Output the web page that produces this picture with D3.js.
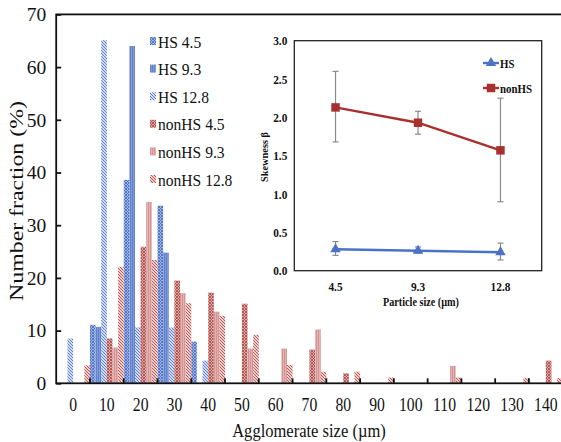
<!DOCTYPE html>
<html>
<head>
<meta charset="utf-8">
<script src="https://cdn.jsdelivr.net/npm/d3@7"></script>
<style>
  body { margin: 0; background: #fff; }
  svg { display: block; }
  text { font-family: "Liberation Serif", "Times New Roman", serif; fill: #111; }
</style>
</head>
<body>
<svg id="chart" width="561" height="442"></svg>
<script>
// Agglomerate size bins (µm)
const sizeBins = [0, 10, 20, 30, 40, 50, 60, 70, 80, 90, 100, 110, 120, 130, 140];
const seriesNames = ["HS 4.5", "HS 9.3", "HS 12.8", "nonHS 4.5", "nonHS 9.3", "nonHS 12.8"];

// Number fraction (%) per bin
const hs45     = [0, 11.1, 38.6, 33.7, 7.9, 0, 0, 0, 0, 0, 0, 0, 0, 0, 0];
const hs93     = [0, 10.7, 64.0, 24.8, 0, 0, 0, 0, 0, 0, 0, 0, 0, 0, 0];
const hs128    = [8.5, 65.1, 10.6, 10.6, 4.3, 0, 0, 0, 0, 0, 0, 0, 0, 0, 0];
const nonhs45  = [0, 8.5, 25.9, 19.5, 17.2, 15.1, 0, 6.4, 1.9, 0, 0, 0, 0, 0, 4.3];
const nonhs93  = [0, 6.8, 34.4, 17.1, 13.6, 6.6, 6.6, 10.2, 0, 0, 0, 3.3, 0, 0, 0];
const nonhs128 = [3.4, 22.1, 23.4, 15.2, 12.8, 9.2, 3.5, 2.2, 2.2, 1.1, 0, 1.1, 0, 1.0, 1.0];
const yTicks = [0, 10, 20, 30, 40, 50, 60, 70];

// Inset: skewness vs particle size
const particleSizes = ["4.5", "9.3", "12.8"];
const hsSkew      = [0.28, 0.26, 0.24];
const hsSkewLo    = [0.20, 0.23, 0.14];
const hsSkewHi    = [0.38, 0.31, 0.36];
const nonhsSkew   = [2.13, 1.93, 1.57];
const nonhsSkewLo = [1.68, 1.78, 0.90];
const nonhsSkewHi = [2.60, 2.08, 2.25];
const insetTicks  = [0, 0.5, 1.0, 1.5, 2.0, 2.5, 3.0];

const seriesValues = [hs45, hs93, hs128, nonhs45, nonhs93, nonhs128];
const seriesFill = ["url(#pBlueCross)", "url(#pBlueVert)", "url(#pBlueDiag)",
                    "url(#pRedCross)", "url(#pRedVert)", "url(#pRedDiag)"];

const svg = d3.select("#chart");
const defs = svg.append("defs");

// Tall, narrow type: render at a larger size, then squeeze the advance width back.
function narrow(sel, k) {
  sel.each(function () {
    const L = this.getComputedTextLength();
    d3.select(this).attr("textLength", L / k).attr("lengthAdjust", "spacingAndGlyphs");
  });
}

function crossPattern(id, bg, fg) {
  const p = defs.append("pattern").attr("id", id).attr("patternUnits", "userSpaceOnUse")
    .attr("width", 3).attr("height", 3);
  p.append("rect").attr("width", 3).attr("height", 3).attr("fill", bg);
  p.append("path").attr("d", "M0,0L3,3M3,0L0,3").attr("stroke", fg).attr("stroke-width", 0.9);
}
function vertPattern(id, bg, fg) {
  const p = defs.append("pattern").attr("id", id).attr("patternUnits", "userSpaceOnUse")
    .attr("width", 2).attr("height", 2);
  p.append("rect").attr("width", 2).attr("height", 2).attr("fill", bg);
  p.append("path").attr("d", "M0.5,0V2").attr("stroke", fg).attr("stroke-width", 0.8);
}
function diagPattern(id, fg) {
  const p = defs.append("pattern").attr("id", id).attr("patternUnits", "userSpaceOnUse")
    .attr("width", 3).attr("height", 3);
  p.append("rect").attr("width", 3).attr("height", 3).attr("fill", "#fff");
  p.append("path").attr("d", "M-1,-1L4,4M-1,2L1,4M2,-1L4,1").attr("stroke", fg).attr("stroke-width", 1.1);
}
crossPattern("pBlueCross", "#9fb4e2", "#4f72c4");
vertPattern("pBlueVert", "#7e9ad8", "#5a7ccb");
diagPattern("pBlueDiag", "#5a7cc9");
crossPattern("pRedCross", "#d9a6a4", "#b2504d");
vertPattern("pRedVert", "#e2b3b2", "#cf8a88");
diagPattern("pRedDiag", "#b7514e");

// ---- main histogram ----
const x0 = d3.scaleBand().domain(sizeBins).range([56.2, 562.7]).padding(0);
const x1 = d3.scaleBand().domain(seriesNames).range([0, x0.bandwidth()]).padding(0);
const y = d3.scaleLinear().domain([0, 70]).range([383.3, 14.4]);

const bars = svg.append("g");
seriesNames.forEach((name, si) => {
  bars.append("g").attr("fill", seriesFill[si])
    .selectAll("rect")
    .data(sizeBins.map((b, i) => ({ bin: b, v: seriesValues[si][i] })).filter(d => d.v > 0))
    .join("rect")
    .attr("x", d => x0(d.bin) + x1(name))
    .attr("width", x1.bandwidth())
    .attr("y", d => y(d.v))
    .attr("height", d => y(0) - y(d.v));
});

// frame
svg.append("rect").attr("x", x0.range()[0]).attr("y", y(70))
  .attr("width", x0.range()[1] - x0.range()[0]).attr("height", y(0) - y(70))
  .attr("fill", "none").attr("stroke", "#111").attr("stroke-width", 1.8);

// y axis
const yAxis = svg.append("g").attr("transform", `translate(${x0.range()[0]},0)`)
  .call(d3.axisLeft(y).tickValues(yTicks).tickSize(-5).tickPadding(10).tickFormat(d3.format("d")));
yAxis.select(".domain").remove();
yAxis.selectAll("line").attr("stroke", "#111").attr("stroke-width", 1.8);
yAxis.selectAll("text").attr("font-size", 19.5).attr("font-family", "Liberation Serif").attr("fill", "#111");

// x axis labels at bin centres, ticks at bin boundaries pointing inward
const xAxis = svg.append("g").attr("transform", `translate(0,${y(0)})`)
  .call(d3.axisBottom(x0).tickSize(0).tickPadding(15));
xAxis.select(".domain").remove();
xAxis.selectAll("text").attr("font-size", 18.5).attr("font-family", "Liberation Serif").attr("fill", "#111")
  .call(narrow, 1.18);
svg.append("g").selectAll("line").data(sizeBins.slice(1)).join("line")
  .attr("x1", d => x0(d)).attr("x2", d => x0(d))
  .attr("y1", y(0)).attr("y2", y(0) - 5)
  .attr("stroke", "#111").attr("stroke-width", 1.8);

svg.append("text").attr("x", 309).attr("y", 437).attr("text-anchor", "middle")
  .attr("font-size", 19.5).text("Agglomerate size (µm)").call(narrow, 1.18);
svg.append("text").attr("transform", "translate(23,201) rotate(-90)").attr("text-anchor", "middle")
  .attr("font-size", 19).attr("textLength", 200).attr("lengthAdjust", "spacingAndGlyphs")
  .text("Number fraction (%)");

// legend
const legend = svg.append("g");
seriesNames.forEach((name, i) => {
  const ly = 42 + i * 27.6;
  legend.append("rect").attr("x", 150).attr("y", ly - 5).attr("width", 6).attr("height", 8)
    .attr("fill", seriesFill[i]);
  legend.append("text").attr("x", 158).attr("y", ly + 5.5).attr("font-size", 16.5).text(name)
    .call(narrow, 1.06);
});

// ---- inset: skewness ----
const xi = d3.scaleBand().domain(particleSizes).range([294.3, 541.7]);
const yi = d3.scaleLinear().domain([0, 3]).range([270.7, 40.7]);
const cx = d => xi(d) + xi.bandwidth() / 2;

svg.append("rect").attr("x", 294.3).attr("y", 40.7).attr("width", 247.4).attr("height", 230)
  .attr("fill", "#fff").attr("stroke", "#222").attr("stroke-width", 1.3);

const yAxI = svg.append("g").attr("transform", "translate(294.3,0)")
  .call(d3.axisLeft(yi).tickValues(insetTicks).tickSize(0).tickPadding(7).tickFormat(d3.format(".1f")));
yAxI.select(".domain").remove();
yAxI.selectAll("text").attr("font-size", 13).attr("font-weight", "bold").attr("font-family", "Liberation Serif").attr("fill", "#222")
  .call(narrow, 1.15);

const xAxI = svg.append("g").attr("transform", "translate(0,270.7)")
  .call(d3.axisBottom(xi).tickSize(0).tickPadding(11));
xAxI.select(".domain").remove();
xAxI.selectAll("text").attr("font-size", 13).attr("font-weight", "bold").attr("font-family", "Liberation Serif").attr("fill", "#222")
  .call(narrow, 1.15);

svg.append("text").attr("x", 421).attr("y", 306).attr("text-anchor", "middle")
  .attr("font-size", 13).attr("font-weight", "bold").text("Particle size (µm)").attr("textLength", 76)
  .attr("lengthAdjust", "spacingAndGlyphs");
svg.append("text").attr("transform", "translate(268,157) rotate(-90)").attr("text-anchor", "middle")
  .attr("font-size", 11).attr("font-weight", "bold").attr("textLength", 50).attr("lengthAdjust", "spacingAndGlyphs")
  .text("Skewness β");

function errorBars(vals, lo, hi) {
  const g = svg.append("g").attr("stroke", "#8a8a8a").attr("stroke-width", 1.2);
  particleSizes.forEach((p, i) => {
    g.append("line").attr("x1", cx(p)).attr("x2", cx(p)).attr("y1", yi(lo[i])).attr("y2", yi(hi[i]));
    g.append("line").attr("x1", cx(p) - 3).attr("x2", cx(p) + 3).attr("y1", yi(lo[i])).attr("y2", yi(lo[i]));
    g.append("line").attr("x1", cx(p) - 3).attr("x2", cx(p) + 3).attr("y1", yi(hi[i])).attr("y2", yi(hi[i]));
  });
}
errorBars(nonhsSkew, nonhsSkewLo, nonhsSkewHi);
errorBars(hsSkew, hsSkewLo, hsSkewHi);

const line = d3.line().x((d, i) => cx(particleSizes[i])).y(d => yi(d));
const blue = "#4a72c8", red = "#a8302e";
svg.append("path").datum(hsSkew).attr("d", line).attr("fill", "none").attr("stroke", blue).attr("stroke-width", 2.4);
svg.append("path").datum(nonhsSkew).attr("d", line).attr("fill", "none").attr("stroke", red).attr("stroke-width", 2.4);

const tri = d3.symbol().type(d3.symbolTriangle).size(48);
const sq = d3.symbol().type(d3.symbolSquare).size(72);
svg.append("g").selectAll("path").data(hsSkew).join("path")
  .attr("transform", (d, i) => `translate(${cx(particleSizes[i])},${yi(d)})`)
  .attr("d", tri).attr("fill", blue);
svg.append("g").selectAll("path").data(nonhsSkew).join("path")
  .attr("transform", (d, i) => `translate(${cx(particleSizes[i])},${yi(d)})`)
  .attr("d", sq).attr("fill", red);

// inset legend
const il = svg.append("g");
[["HS", blue, tri, 63], ["nonHS", red, sq, 88]].forEach(([name, col, sym, ly]) => {
  il.append("line").attr("x1", 483).attr("x2", 499).attr("y1", ly).attr("y2", ly)
    .attr("stroke", col).attr("stroke-width", 2.4);
  il.append("path").attr("transform", `translate(491,${ly})`).attr("d", sym).attr("fill", col);
  il.append("text").attr("x", 500).attr("y", ly + 4.5).attr("font-size", 12.5).attr("font-weight", "bold").text(name)
    .call(narrow, 1.15);
});
</script>
</body>
</html>
